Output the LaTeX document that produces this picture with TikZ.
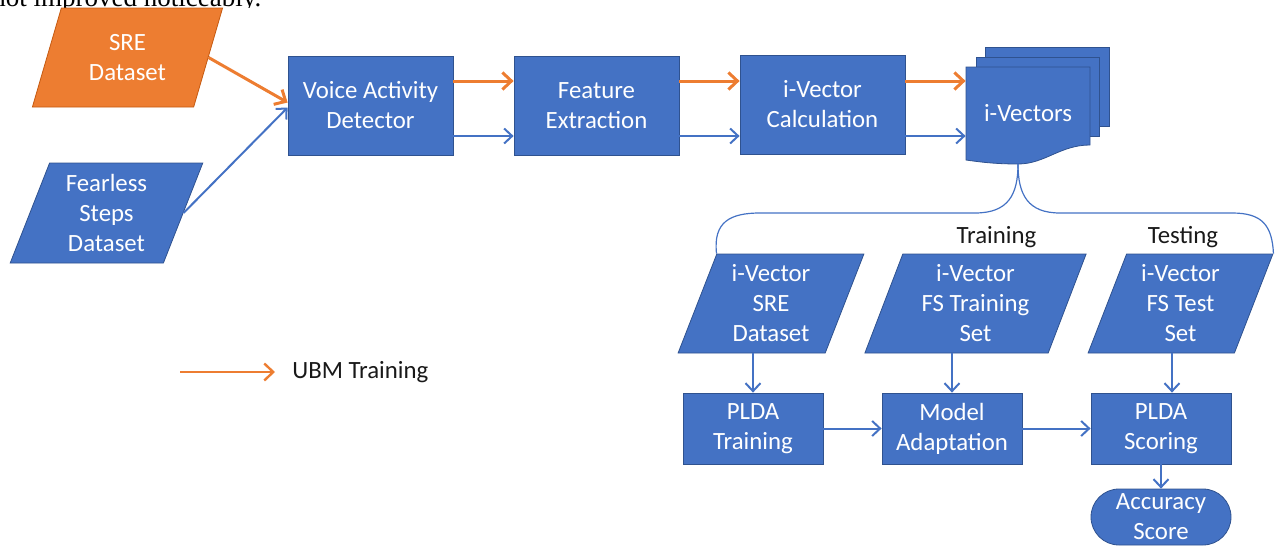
\documentclass[tikz,border=0pt]{standalone}
\usepackage{fontspec}
\setmainfont{Carlito}
\newfontfamily\serifx{Liberation Serif}
\usetikzlibrary{shapes.geometric,arrows.meta,calc}
\definecolor{oblue}{HTML}{4472C4}
\definecolor{oblueb}{HTML}{2F528F}
\definecolor{oorange}{HTML}{ED7D31}
\definecolor{oorangeb}{HTML}{C55A11}
\tikzset{
  boxtxt/.style={text=white, align=center, font=\fontsize{12.4}{15}\selectfont},
  box/.style={rectangle, fill=oblue, draw=oblueb, line width=0.4pt, inner sep=0pt, boxtxt},
  para/.style={trapezium, trapezium left angle=70, trapezium right angle=110, trapezium stretches=true,
    fill=oblue, draw=oblueb, line width=0.4pt, inner sep=0pt, boxtxt},
  doc/.style={fill=oblue, draw=oblueb, line width=0.4pt},
  barrow/.style={draw=oblue, line width=1pt, -{Straight Barb[length=4pt,width=7.5pt]}},
  oarrow/.style={draw=oorange, line width=1.5pt, -{Straight Barb[length=4.5pt,width=8.5pt]}},
  brace/.style={draw=oblue, line width=0.6pt},
  lbl/.style={text=black!90, font=\fontsize{12.4}{15}\selectfont},
}
\begin{document}
\begin{tikzpicture}[x=0.5pt,y=-0.5pt]
\useasboundingbox (0,0) rectangle (1275,546);
\begin{scope}
  \clip (0,0) rectangle (1275,7.5);
  \node[anchor=base west, inner sep=0pt, font=\serifx\fontsize{13.5}{16}\selectfont, text=black] (toptext) at (-8,6) {not improved noticeably.};
\end{scope}

% inputs
\node[para, fill=oorange, draw=oorangeb, minimum width=95.5pt, minimum height=49.5pt] (sre) at (127.5,57.5) {SRE\\Dataset};
\node[para, minimum width=96.5pt, minimum height=50pt] (fs) at (106.5,213) {Fearless\\Steps\\Dataset};

% pipeline
\node[box, minimum width=82.5pt, minimum height=49.5pt] (vad) at (370.5,105.5) {Voice Activity\\Detector};
\node[box, minimum width=82.5pt, minimum height=49.5pt] (fe) at (596.5,105.5) {Feature\\Extraction};
\node[box, minimum width=82.5pt, minimum height=49.5pt] (ivc) at (822.5,104.5) {i-Vector\\Calculation};

% multi-document
\filldraw[doc] (985,47) rectangle (1109,126);
\filldraw[doc] (976,57) rectangle (1099,136);
\filldraw[doc] (966,67) -- (1090,67) -- (1090,145)
  .. controls (1060,145) and (1045,164) .. (1018,164)
  .. controls (995,164) and (980,162) .. (966,160) -- cycle;
\node[inner sep=0pt, minimum width=62pt, minimum height=46.5pt, boxtxt] (ivecs) at (1028,113.5) {i-Vectors};
\coordinate (bt) at (1018,164);

% arrows top
\coordinate (yo) at (0,81);
\coordinate (yb) at (0,136);
\draw[oarrow] (sre.east) -- ([yshift=1.5pt]vad.west);
\draw[barrow] (fs.east) -- ([yshift=-1pt]vad.west);
\draw[oarrow] (vad.east |- yo) -- (fe.west |- yo);
\draw[barrow] (vad.east |- yb) -- (fe.west |- yb);
\draw[oarrow] (fe.east |- yo) -- (ivc.west |- yo);
\draw[barrow] (fe.east |- yb) -- (ivc.west |- yb);
\draw[oarrow] (ivc.east |- yo) -- (ivecs.west |- yo);
\draw[barrow] (ivc.east |- yb) -- (ivecs.west |- yb);

% lower part
\node[para, minimum width=93pt, minimum height=49.5pt] (p1) at (771,303.5) {i-Vector\\SRE\\Dataset};
\node[para, minimum width=111.5pt, minimum height=49.5pt] (p2) at (975.5,303.5) {i-Vector\\FS Training\\Set};
\node[para, minimum width=92.5pt, minimum height=49.5pt] (p3) at (1180.5,303.5) {i-Vector\\FS Test\\Set};
\node[box, minimum width=70pt, minimum height=35.5pt] (pt) at (753,428.5) {PLDA\\Training};
\node[box, minimum width=70pt, minimum height=35.5pt] (ma) at (952,428.5) {Model\\Adaptation};
\node[box, minimum width=70pt, minimum height=35.5pt] (ps) at (1161,428.5) {PLDA\\Scoring};
\node[box, rounded corners=14pt, minimum width=70pt, minimum height=28pt] (acc) at (1161,517) {Accuracy\\Score};

\node[lbl] (trn) at (996.5,237) {Training};
\node[lbl] (tst) at (1183,237) {Testing};

% brace
\draw[brace] (p1.top left corner) .. controls (713,222) and (730,213) .. (760,213) -- (975,213)
  .. controls (1008,213) and (1018,195) .. (bt);
\draw[brace] (bt) .. controls (1018,195) and (1028,213) .. (1060,213) -- (1232,213)
  .. controls (1262,213) and (1272,225) .. (p3.top right corner);

% lower arrows
\coordinate (x3) at (1172,0);
\draw[barrow] (pt.north |- p1.south) -- (pt.north);
\draw[barrow] (ma.north |- p2.south) -- (ma.north);
\draw[barrow] (x3 |- p3.south) -- (x3 |- ps.north);
\draw[barrow] (pt.east) -- (ma.west);
\draw[barrow] (ma.east) -- (ps.west);
\draw[barrow] (ps.south) -- (acc.north);

% legend
\node[lbl, anchor=west, inner sep=0pt] (ubm) at (292,372) {UBM Training};
\coordinate (l0) at (180,372);
\draw[oarrow, line width=1.2pt] (l0) -- ([xshift=-8.5pt]ubm.west);
\end{tikzpicture}
\end{document}
